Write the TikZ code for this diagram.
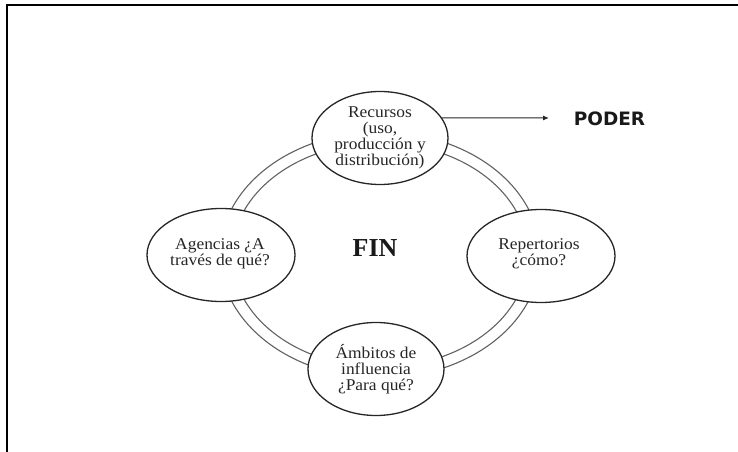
\documentclass[tikz,border=0pt]{standalone}
\usepackage{fontspec}
\setmainfont{Liberation Serif}
\newfontfamily\bubfont[FakeStretch=1.06]{Liberation Serif}
\newfontfamily\poderfont{DejaVu Sans}
\usetikzlibrary{shapes.geometric,arrows.meta}
\tikzset{
  ring/.style={draw=black!62, line width=1.1bp},
  bubble/.style={ellipse, draw=black!85, line width=1.3bp, fill=white,
    minimum width=#1, minimum height=93bp, inner sep=0pt},
  bubtext/.style={align=center, inner sep=0pt, text=black!85,
    font=\bubfont\fontsize{16.5}{16}\selectfont},
  frameline/.style={draw=black, line width=2bp},
  arrowline/.style={draw=black!85, line width=1bp, -{Latex[length=6bp,width=5bp]}}
}
\begin{document}
\begin{tikzpicture}[x=1bp,y=-1bp]
\useasboundingbox (0,0) rectangle (738,452);
% frame (top and left edges)
\draw[frameline] (7,452) -- (7,5) -- (738,5);
% double ring
\draw[ring] (380,255) ellipse [x radius=160bp, y radius=123bp];
\draw[ring] (380,255) ellipse [x radius=148bp, y radius=112bp];
% bubbles
\node[bubble=136bp] (rec) at (380,138) {};
\node[bubble=148bp] (age) at (221,255) {};
\node[bubble=148bp] (rep) at (541,256) {};
\node[bubble=136bp] (amb) at (376,369) {};
\node[bubtext] (rect) at (rec) {Recursos\\(uso,\\producción y\\distribución)};
\node[bubtext] (aget) at (220,254) {Agencias ¿A\\través de qué?};
\node[bubtext] (rept) at (539,254) {Repertorios\\¿cómo?};
\node[bubtext] (ambt) at (376,369) {Ámbitos de\\influencia\\¿Para qué?};
% centre
\node[font=\bfseries\fontsize{26}{26}\selectfont, text=black!90, inner sep=0pt] (fin) at (375,248) {FIN};
% arrow to PODER
\node[font=\poderfont\bfseries\fontsize{18.5}{18.5}\selectfont, text=black!90, inner sep=0pt] (poder) at (609.5,119) {PODER};
\coordinate (tip) at (549,118);
\draw[arrowline] (rec.18) -- (tip);
\end{tikzpicture}
\end{document}
